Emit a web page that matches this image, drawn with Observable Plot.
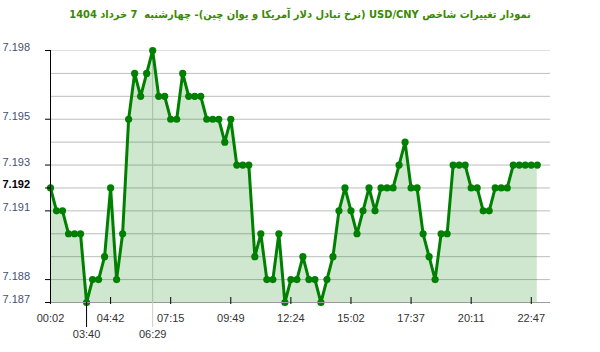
<!DOCTYPE html>
<html><head><meta charset="utf-8">
<script src="https://cdn.jsdelivr.net/npm/d3@7"></script>
<script src="https://cdn.jsdelivr.net/npm/@observablehq/plot@0.6"></script>
<style>
body{margin:0;background:#fff;width:600px;height:352px;overflow:hidden;font-family:Arial,"Liberation Sans",sans-serif}
#title{height:30px;line-height:30px;text-align:center;direction:rtl;font-weight:bold;font-size:11px;color:#3a8a00;font-family:"DejaVu Sans Condensed","DejaVu Sans",sans-serif;font-stretch:condensed;white-space:nowrap}
</style></head><body>
<div id="title">نمودار تغییرات شاخص USD/CNY (نرخ تبادل دلار آمریکا و یوان چین)- چهارشنبه&nbsp; 7 خرداد 1404</div>
<div id="chart"></div>
<script>
const values = [7.192, 7.191, 7.191, 7.190, 7.190, 7.190, 7.187, 7.188, 7.188, 7.189, 7.192, 7.188, 7.190, 7.195,
  7.197, 7.196, 7.197, 7.198, 7.196, 7.196, 7.195, 7.195, 7.197, 7.196, 7.196, 7.196, 7.195,
  7.195, 7.195, 7.194, 7.195, 7.193, 7.193, 7.193, 7.189, 7.190, 7.188, 7.188, 7.190, 7.187, 7.188,
  7.188, 7.189, 7.188, 7.188, 7.187, 7.188, 7.189, 7.191, 7.192, 7.191, 7.190, 7.191, 7.192,
  7.191, 7.192, 7.192, 7.192, 7.193, 7.194, 7.192, 7.192, 7.190, 7.189, 7.188, 7.190, 7.190,
  7.193, 7.193, 7.193, 7.192, 7.192, 7.191, 7.191, 7.192, 7.192, 7.192, 7.193, 7.193, 7.193, 7.193, 7.193];
const xTickIndex = [0, 10, 20, 30, 40, 50, 60, 70, 80];
const xTickLabels = ["00:02", "04:42", "07:15", "09:49", "12:24", "15:02", "17:37", "20:11", "22:47"];
const minIndex = 6, minLabel = "03:40";
const maxIndex = 17, maxLabel = "06:29";
const gridValues = [7.198, 7.197, 7.196, 7.195, 7.194, 7.193, 7.192, 7.191, 7.190, 7.189, 7.188, 7.187];
const yTickValues = [7.198, 7.195, 7.193, 7.191, 7.188, 7.187];
const currentValue = 7.192;

const data = values.map((v, i) => ({i, v}));
const yMin = 7.187, yMax = 7.198;
const green = "#008000";

const chart = Plot.plot({
  width: 600, height: 322,
  marginTop: 20, marginBottom: 50, marginLeft: 50, marginRight: 50,
  x: {domain: [0, 83.2], axis: null},
  y: {domain: [yMin, yMax], axis: null},
  style: {fontFamily: "Arial, 'Liberation Sans', sans-serif", fontSize: "11px"},
  marks: [
    Plot.ruleY(gridValues, {stroke: d => d === yMax ? "#e0e0e0" : "#bdbdbd", strokeWidth: 1}),
    Plot.ruleX([maxIndex], {y1: () => yMin, y2: () => yMax, stroke: "#cccccc"}),
    Plot.areaY(data, {x: "i", y1: () => yMin, y2: "v", fill: green, fillOpacity: 0.19}),
    Plot.line(data, {x: "i", y: "v", stroke: green, strokeWidth: 3}),
    Plot.dot(data, {x: "i", y: "v", r: 3.6, fill: green}),
    Plot.ruleY([yMin], {stroke: "#999"}),
    Plot.ruleX([0], {y1: () => yMin, y2: () => yMax, stroke: "black"}),
    Plot.axisY([...yTickValues, currentValue], {tickSize: 5, tickFormat: () => "", stroke: "black", label: null}),
    Plot.text(yTickValues, {y: d => d, text: d => d.toFixed(3), frameAnchor: "left", textAnchor: "start", dx: -48, dy: -3, fill: "#3f5275", fontSize: 11}),
    Plot.text([currentValue], {y: d => d, text: d => d.toFixed(3), frameAnchor: "left", textAnchor: "start", dx: -48, dy: -3, fill: "#000", fontWeight: "bold", fontSize: 11}),
    Plot.axisX(xTickIndex, {tickSize: 7, dy: -5, tickPadding: 10, tickFormat: d => xTickLabels[xTickIndex.indexOf(d)], stroke: "black", fill: "#333", fontSize: 11, label: null}),
    Plot.axisX([minIndex], {tickSize: 25, tickPadding: 3, tickFormat: () => minLabel, stroke: "black", fill: "#333", fontSize: 11, label: null}),
    Plot.axisX([maxIndex], {tickSize: 25, tickPadding: 3, tickFormat: () => maxLabel, stroke: "#cccccc", fill: "#333", fontSize: 11, label: null})
  ]
});
document.getElementById("chart").appendChild(chart);
</script>
</body></html>
